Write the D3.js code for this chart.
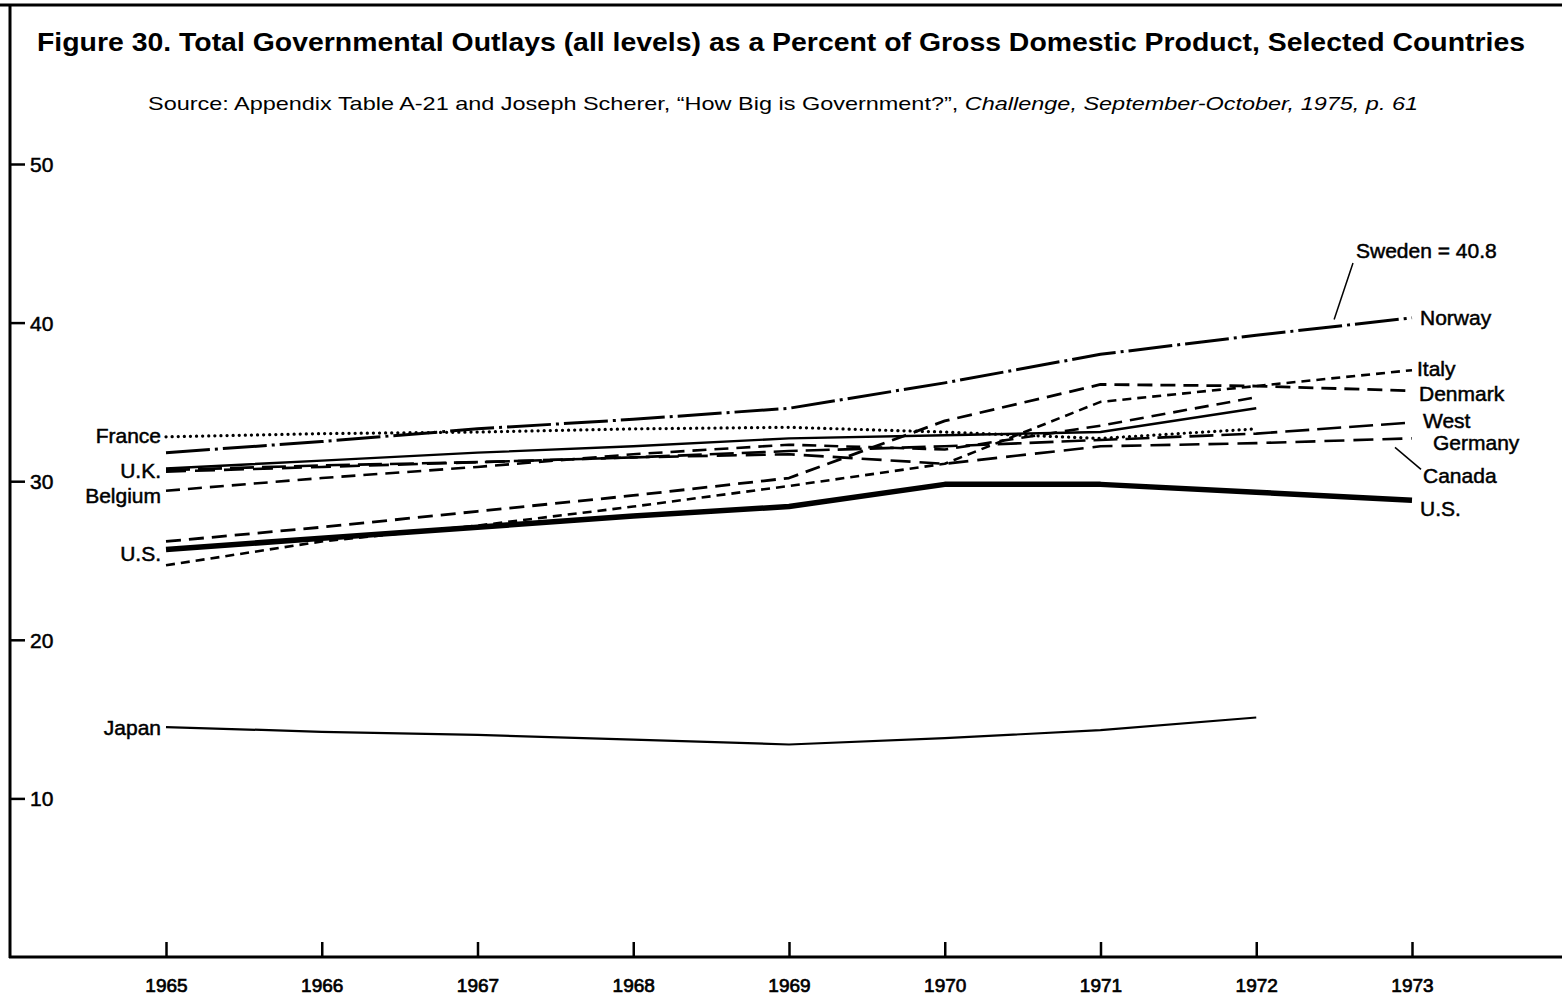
<!DOCTYPE html>
<html>

<head>
    <title>
        Figure 30
    </title>
    <script src="https://cdn.jsdelivr.net/npm/d3@7"></script>
    <style>
        body { margin: 0; background: #fff; }
        text { font-family: "Liberation Sans", Arial, sans-serif; fill: #000; }
    </style>
</head>

<body>
    <svg></svg>
    <script>
        const width = 1562;
        const height = 998;

        // data (percent of GDP)
        const years = [1965, 1966, 1967, 1968, 1969, 1970, 1971, 1972, 1973];
        const yTicks = [10, 20, 30, 40, 50];

        const norway = [31.8, 32.5, 33.3, 33.9, 34.6, 36.2, 38.0, 39.2, 40.3];
        const france = [32.8, 33.0, 33.1, 33.3, 33.4, 33.1, 32.7, 33.3];
        const uk = [30.8, 31.3, 31.8, 32.2, 32.7, 32.9, 33.1, 34.6];
        const westGermany = [30.7, 31.0, 31.2, 31.5, 31.9, 32.2, 32.6, 33.0, 33.7];
        const canada = [30.6, 30.9, 31.2, 31.5, 31.7, 31.1, 32.2, 32.4, 32.7];
        const belgium = [29.4, 30.2, 30.9, 31.7, 32.3, 32.0, 33.5, 35.3];
        const denmark = [26.2, 27.1, 28.1, 29.1, 30.2, 33.8, 36.1, 36.0, 35.7];
        const italy = [24.7, 26.2, 27.2, 28.4, 29.7, 31.1, 35.0, 36.0, 37.0];
        const us = [25.7, 26.4, 27.1, 27.8, 28.4, 29.8, 29.8, 29.3, 28.8];
        const japan = [14.5, 14.2, 14.0, 13.7, 13.4, 13.8, 14.3, 15.1];
        const swedenNote = 40.8;

        const series = [
            { name: "Norway", values: norway },
            { name: "France", values: france },
            { name: "U.K.", values: uk },
            { name: "West Germany", values: westGermany },
            { name: "Canada", values: canada },
            { name: "Belgium", values: belgium },
            { name: "Denmark", values: denmark },
            { name: "Italy", values: italy },
            { name: "U.S.", values: us },
            { name: "Japan", values: japan }
        ];

        // line styles for each country
        const styles = {
            "Norway": { w: 3, dash: "44,5,3,5" },
            "France": { w: 3.2, dash: "0.1,6", cap: "round" },
            "U.K.": { w: 2.4, dash: null },
            "West Germany": { w: 2.6, dash: "24,8" },
            "Canada": { w: 2.6, dash: "20,9" },
            "Belgium": { w: 2.6, dash: "14,8" },
            "Denmark": { w: 2.8, dash: "15,8" },
            "Italy": { w: 2.6, dash: "9,6" },
            "U.S.": { w: 5.5, dash: null },
            "Japan": { w: 2.2, dash: null }
        };

        let svg = d3.select("svg")
            .attr("width", width)
            .attr("height", height);

        let xScale = d3.scaleLinear()
            .domain([1965, 1973])
            .range([166, 1412]);

        let yScale = d3.scaleLinear()
            .domain([0, 50])
            .range([957, 164]);

        // frame: top rule, left axis, bottom axis
        svg.append("line")
            .attr("x1", 0).attr("x2", width).attr("y1", 5).attr("y2", 5)
            .attr("stroke", "#000").attr("stroke-width", 3);
        svg.append("line")
            .attr("x1", 10).attr("x2", 10).attr("y1", 4).attr("y2", 958)
            .attr("stroke", "#000").attr("stroke-width", 3);
        svg.append("line")
            .attr("x1", 9).attr("x2", width).attr("y1", yScale(0)).attr("y2", yScale(0))
            .attr("stroke", "#000").attr("stroke-width", 3);

        let yAxis = d3.axisRight(yScale)
            .tickValues(yTicks)
            .tickSize(15)
            .tickPadding(5);

        let gy = svg.append("g")
            .attr("transform", "translate(10,0)")
            .call(yAxis);
        gy.select(".domain").remove();
        gy.selectAll("line").attr("stroke", "#000").attr("stroke-width", 2.5);
        gy.selectAll("text")
            .attr("font-size", 21)
            .attr("font-family", "Liberation Sans, Arial, sans-serif")
            .attr("fill", "#000")
            .attr("stroke", "#000")
            .attr("stroke-width", 0.5)
            .attr("dy", "0.36em");

        let xAxis = d3.axisTop(xScale)
            .tickValues(years)
            .tickFormat(d3.format("d"))
            .tickSize(15);

        let gx = svg.append("g")
            .attr("transform", "translate(0," + yScale(0) + ")")
            .call(xAxis);
        gx.select(".domain").remove();
        gx.selectAll("line").attr("stroke", "#000").attr("stroke-width", 2.5);
        gx.selectAll("text")
            .attr("y", 28)
            .attr("dy", "0.36em")
            .attr("font-size", 19)
            .attr("font-family", "Liberation Sans, Arial, sans-serif")
            .attr("fill", "#000")
            .attr("stroke", "#000")
            .attr("stroke-width", 0.7);

        let linePath = d3.line()
            .x((d, i) => xScale(years[i]))
            .y((d) => yScale(d));

        svg.append("g")
            .selectAll("path")
            .data(series)
            .enter()
            .append("path")
            .attr("d", (d) => linePath(d.values))
            .attr("fill", "none")
            .attr("stroke", "#000")
            .attr("stroke-width", (d) => styles[d.name].w)
            .attr("stroke-dasharray", (d) => styles[d.name].dash)
            .attr("stroke-linecap", (d) => styles[d.name].cap || "butt")
            .attr("stroke-linejoin", "round");

        // country labels
        const labelFont = 21;
        let labels = svg.append("g")
            .attr("font-size", labelFont)
            .attr("stroke", "#000")
            .attr("stroke-width", 0.5);

        const leftLabels = [
            { text: "France", values: france, dy: -1 },
            { text: "U.K.", values: uk, dy: 2 },
            { text: "Belgium", values: belgium, dy: 5 },
            { text: "U.S.", values: us, dy: 4 },
            { text: "Japan", values: japan, dy: 0 }
        ];

        labels.selectAll(".left")
            .data(leftLabels)
            .enter()
            .append("text")
            .attr("x", xScale(1965) - 5)
            .attr("y", (d) => yScale(d.values[0]) + d.dy)
            .attr("dy", "0.36em")
            .attr("text-anchor", "end")
            .text((d) => d.text);

        const rightLabels = [
            { text: "Norway", values: norway, dx: 8, dy: 0 },
            { text: "Italy", values: italy, dx: 5, dy: -2 },
            { text: "Denmark", values: denmark, dx: 7, dy: 3 },
            { text: "West", values: westGermany, dx: 11, dy: -2 },
            { text: "Germany", values: westGermany, dx: 21, dy: 20 },
            { text: "Canada", values: canada, dx: 11, dy: 37 },
            { text: "U.S.", values: us, dx: 8, dy: 8 }
        ];

        labels.selectAll(".right")
            .data(rightLabels)
            .enter()
            .append("text")
            .attr("x", (d) => xScale(1973) + d.dx)
            .attr("y", (d) => yScale(d.values[d.values.length - 1]) + d.dy)
            .attr("dy", "0.36em")
            .text((d) => d.text);

        // Canada leader
        svg.append("line")
            .attr("x1", xScale(1973) - 17).attr("y1", yScale(canada[8]) + 9)
            .attr("x2", xScale(1973) + 9).attr("y2", yScale(canada[8]) + 31)
            .attr("stroke", "#000").attr("stroke-width", 1.5);

        // Sweden note with leader to the Norway line
        labels.append("text")
            .attr("x", 1356)
            .attr("y", 250)
            .attr("dy", "0.36em")
            .text("Sweden = " + swedenNote);
        svg.append("line")
            .attr("x1", 1353).attr("y1", 263)
            .attr("x2", xScale(1972.5)).attr("y2", yScale((norway[7] + norway[8]) / 2) - 7)
            .attr("stroke", "#000").attr("stroke-width", 1.5);

        // title and source
        svg.append("text")
            .attr("x", 37)
            .attr("y", 42)
            .attr("dy", "0.36em")
            .attr("font-size", 25)
            .attr("font-weight", "bold")
            .attr("textLength", 1488)
            .attr("lengthAdjust", "spacingAndGlyphs")
            .text("Figure 30. Total Governmental Outlays (all levels) as a Percent of Gross Domestic Product, Selected Countries");

        let source = svg.append("text")
            .attr("x", 148)
            .attr("y", 103)
            .attr("dy", "0.36em")
            .attr("font-size", 19)
            .attr("textLength", 1270)
            .attr("lengthAdjust", "spacingAndGlyphs");
        source.append("tspan")
            .text("Source: Appendix Table A-21 and Joseph Scherer, \u201cHow Big is Government?\u201d, ");
        source.append("tspan")
            .attr("font-style", "italic")
            .text("Challenge, September-October, 1975, p. 61");
    </script>
</body>

</html>
